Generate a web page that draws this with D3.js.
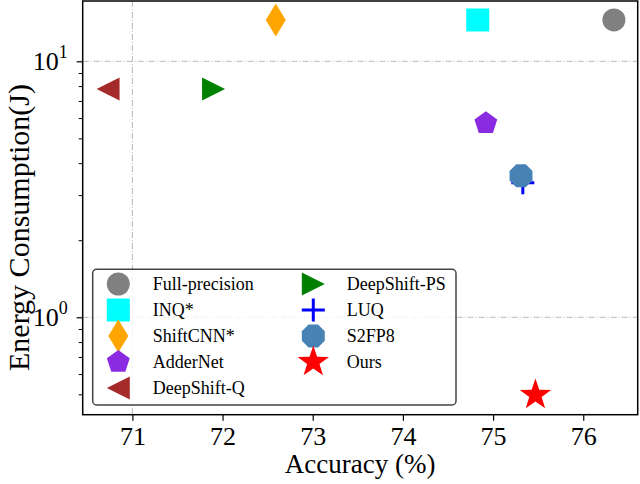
<html>
<head>
<style>
  body { margin: 0; background: #fff; }
  svg text { font-family: "Liberation Serif", "Times New Roman", serif; }
</style>
</head>
<body>
<script src="https://d3js.org/d3.v7.min.js"></script>
<div id="chart"></div>
<script>
// data
var methods  = ["Full-precision", "INQ*", "ShiftCNN*", "AdderNet", "DeepShift-Q",
                "DeepShift-PS", "LUQ", "S2FP8", "Ours"];
var accuracy = [76.34, 74.83, 72.59, 74.92, 70.73, 71.90, 75.33, 75.31, 75.47];
var energy   = [14.5, 14.5, 14.5, 5.73, 7.8, 7.8, 3.35, 3.57, 0.497];
var xTicks = [71, 72, 73, 74, 75, 76];
var yMajor = [1, 10];
var yMajorExp = ["0", "1"];
var yMinor = [0.5, 0.6, 0.7, 0.8, 0.9, 2, 3, 4, 5, 6, 7, 8, 9];

var colors  = ["#808080", "#00ffff", "#ffa500", "#8a2be2", "#a52a2a",
               "#008000", "#0000ff", "#4682b4", "#ff0000"];
var markers = ["circle", "square", "thin_diamond", "pentagon", "tri_left",
               "tri_right", "plus", "octagon", "star"];

var W = 640, H = 484;
var plotL = 82.7, plotR = 637.7, plotT = 1, plotB = 414.7;
var serif = "Liberation Serif";

var svg = d3.select("#chart").append("svg")
  .attr("width", W).attr("height", H)
  .attr("font-family", serif);

var x = d3.scaleLinear().domain([70.449, 76.604]).range([plotL, plotR]);
var y = d3.scaleLog().domain([0.4163, 17.2]).range([plotB, plotT]);

// marker path generators (pixel sizes)
function poly(n, r, rot) {
  var pts = [];
  for (var i = 0; i < n; i++) {
    var a = rot + i * 2 * Math.PI / n;
    pts.push([r * Math.sin(a), -r * Math.cos(a)]);
  }
  return "M" + pts.map(function(p) { return p.join(","); }).join("L") + "Z";
}
function starPath(R, r) {
  var pts = [];
  for (var i = 0; i < 10; i++) {
    var rr = i % 2 ? r : R, a = i * Math.PI / 5;
    pts.push([rr * Math.sin(a), -rr * Math.cos(a)]);
  }
  return "M" + pts.map(function(p) { return p.join(","); }).join("L") + "Z";
}
function markerPath(m) {
  switch (m) {
    case "circle": return d3.symbol(d3.symbolCircle, Math.PI * 11.5 * 11.5)();
    case "square": return "M-11.5,-11.5H11.5V11.5H-11.5Z";
    case "thin_diamond": return "M0,-16.5L10,0L0,16.5L-10,0Z";
    case "pentagon": return poly(5, 12, 0);
    case "tri_left": return "M-11.5,0L11.5,-11.5L11.5,11.5Z";
    case "tri_right": return "M11.5,0L-11.5,-11.5L-11.5,11.5Z";
    case "plus": return "M-11.5,0H11.5M0,-11.5V11.5";
    case "octagon": return poly(8, 12.4, Math.PI / 8);
    case "star": return starPath(16.5, 6.5);
  }
}
function drawMarker(g, i) {
  var p = g.append("path").attr("d", markerPath(markers[i]));
  if (markers[i] === "plus") {
    p.attr("fill", "none").attr("stroke", colors[i]).attr("stroke-width", 3);
  } else {
    p.attr("fill", colors[i]);
  }
}

// grid (dash-dot)
var grid = svg.append("g")
  .attr("stroke", "#b8b8b8").attr("stroke-width", 1)
  .attr("stroke-dasharray", "6,2,1,2");
grid.append("line").attr("x1", x(71)).attr("x2", x(71)).attr("y1", plotT).attr("y2", plotB);
yMajor.forEach(function(v) {
  grid.append("line").attr("x1", plotL).attr("x2", plotR).attr("y1", y(v)).attr("y2", y(v));
});

// points
methods.forEach(function(name, i) {
  var g = svg.append("g")
    .attr("transform", "translate(" + x(accuracy[i]) + "," + y(energy[i]) + ")");
  drawMarker(g, i);
});

// axes
var xAxis = svg.append("g")
  .attr("transform", "translate(0," + plotB + ")")
  .call(d3.axisBottom(x).tickValues(xTicks).tickFormat(d3.format("d"))
    .tickSize(6).tickSizeOuter(0).tickPadding(6));
xAxis.attr("font-family", serif).attr("font-size", 26);
xAxis.select(".domain").remove();
xAxis.selectAll("line").attr("stroke-width", 1.2);
xAxis.selectAll("text").attr("fill", "#000");

var yAxis = svg.append("g")
  .attr("transform", "translate(" + plotL + ",0)")
  .call(d3.axisLeft(y).tickValues(yMajor).tickSize(6).tickFormat(""));
yAxis.select(".domain").remove();
yAxis.selectAll("line").attr("stroke-width", 1.2);

var yMinorAxis = svg.append("g")
  .attr("transform", "translate(" + plotL + ",0)")
  .call(d3.axisLeft(y).tickValues(yMinor).tickSize(4).tickFormat(""));
yMinorAxis.select(".domain").remove();
yMinorAxis.selectAll("line").attr("stroke-width", 1);

yMajor.forEach(function(v, i) {
  var t = svg.append("text")
    .attr("x", plotL - 15).attr("y", y(v) + 9)
    .attr("text-anchor", "end").attr("font-size", 26);
  t.append("tspan").text("10");
  t.append("tspan").attr("font-size", 18).attr("dy", -12).text(yMajorExp[i]);
});

// frame
svg.append("rect")
  .attr("x", plotL).attr("y", plotT)
  .attr("width", plotR - plotL).attr("height", plotB - plotT)
  .attr("fill", "none").attr("stroke", "#000").attr("stroke-width", 1.5);

// axis labels
svg.append("text")
  .attr("x", (plotL + plotR) / 2).attr("y", 473)
  .attr("text-anchor", "middle").attr("font-size", 27)
  .text("Accuracy (%)");
svg.append("text")
  .attr("transform", "translate(29,227.5) rotate(-90)")
  .attr("text-anchor", "middle").attr("font-size", 30)
  .text("Energy Consumption(J)");

// legend
var legend = svg.append("g");
legend.append("rect")
  .attr("x", 92.7).attr("y", 269.3).attr("width", 363.3).attr("height", 135.7)
  .attr("rx", 4).attr("fill", "#fff").attr("fill-opacity", 0.8)
  .attr("stroke", "#444").attr("stroke-width", 1.5);
var rowY = [284, 310, 336, 362, 388];
var colMarkX = [118.3, 313.3], colTextX = [152.7, 346.7];
methods.forEach(function(name, i) {
  var col = i < 5 ? 0 : 1, row = i < 5 ? i : i - 5;
  var g = legend.append("g")
    .attr("transform", "translate(" + colMarkX[col] + "," + rowY[row] + ")");
  drawMarker(g, i);
  legend.append("text")
    .attr("x", colTextX[col]).attr("y", rowY[row] + 6)
    .attr("font-size", 18).text(name);
});
</script>
</body>
</html>
